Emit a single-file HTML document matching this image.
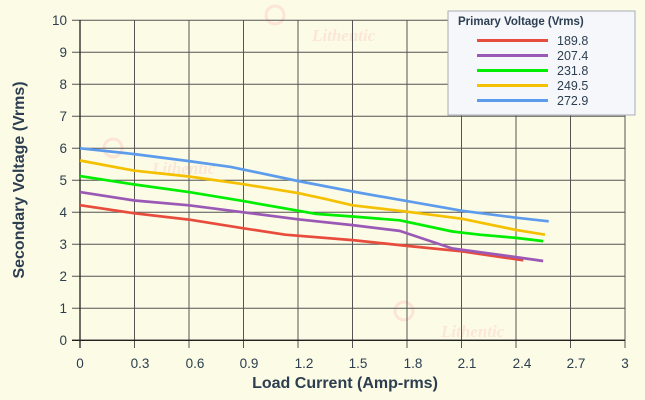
<!DOCTYPE html>
<html><head><meta charset="utf-8"><style>
html,body{margin:0;padding:0;background:#fcfbe5;}
svg{display:block;font-family:"Liberation Sans",Arial,sans-serif;}
</style></head><body>
<svg width="645" height="400" viewBox="0 0 645 400" xmlns="http://www.w3.org/2000/svg">
<rect width="645" height="400" fill="#fcfbe5"/>
<g fill="none" stroke="#fbe0d0" stroke-width="3" opacity="0.8">
<circle cx="275" cy="15" r="9"/><circle cx="113" cy="148" r="9"/><circle cx="404" cy="311" r="9"/>
</g>
<g font-family="Liberation Serif,serif" font-style="italic" font-weight="bold" font-size="17" fill="#fbe6d8">
<text x="312" y="41">Lithentic</text><text x="152" y="174">Lithentic</text><text x="441" y="337">Lithentic</text>
</g>
<g stroke="#555" stroke-width="1">
<line x1="80" y1="20" x2="80" y2="348"/>
<line x1="134.5" y1="20" x2="134.5" y2="348"/>
<line x1="189" y1="20" x2="189" y2="348"/>
<line x1="243.5" y1="20" x2="243.5" y2="348"/>
<line x1="298" y1="20" x2="298" y2="348"/>
<line x1="352.5" y1="20" x2="352.5" y2="348"/>
<line x1="407" y1="20" x2="407" y2="348"/>
<line x1="461.5" y1="20" x2="461.5" y2="348"/>
<line x1="516" y1="20" x2="516" y2="348"/>
<line x1="570.5" y1="20" x2="570.5" y2="348"/>
<line x1="625" y1="20" x2="625" y2="348"/>
<line x1="72" y1="340.3" x2="625" y2="340.3"/>
<line x1="72" y1="308.3" x2="625" y2="308.3"/>
<line x1="72" y1="276.3" x2="625" y2="276.3"/>
<line x1="72" y1="244.3" x2="625" y2="244.3"/>
<line x1="72" y1="212.3" x2="625" y2="212.3"/>
<line x1="72" y1="180.3" x2="625" y2="180.3"/>
<line x1="72" y1="148.3" x2="625" y2="148.3"/>
<line x1="72" y1="116.3" x2="625" y2="116.3"/>
<line x1="72" y1="84.3" x2="625" y2="84.3"/>
<line x1="72" y1="52.3" x2="625" y2="52.3"/>
<line x1="72" y1="20.3" x2="625" y2="20.3"/>
</g>
<line x1="80" y1="20" x2="80" y2="348" stroke="#222" stroke-width="1.3"/>
<line x1="72" y1="340.3" x2="625" y2="340.3" stroke="#222" stroke-width="1.3"/>
<g font-size="13.5" fill="#2c3e50" text-anchor="end">
<text x="67" y="345">0</text><text x="67" y="313">1</text><text x="67" y="281">2</text><text x="67" y="249">3</text><text x="67" y="217">4</text><text x="67" y="185">5</text><text x="67" y="153">6</text><text x="67" y="121">7</text><text x="67" y="89">8</text><text x="67" y="57">9</text><text x="67" y="25">10</text>
</g>
<g font-size="13.5" fill="#2c3e50" text-anchor="middle">
<text x="80" y="368">0</text><text x="140" y="368">0.3</text><text x="195" y="368">0.6</text><text x="249" y="368">0.9</text><text x="304" y="368">1.2</text><text x="358" y="368">1.5</text><text x="413" y="368">1.8</text><text x="467" y="368">2.1</text><text x="522" y="368">2.4</text><text x="576" y="368">2.7</text><text x="625" y="368">3</text>
</g>
<text x="345" y="388" font-size="16" font-weight="bold" fill="#2c3e50" text-anchor="middle">Load Current (Amp-rms)</text>
<text transform="translate(24,180) rotate(-90)" font-size="16" font-weight="bold" fill="#2c3e50" text-anchor="middle">Secondary Voltage (Vrms)</text>
<g fill="none" stroke-width="2.7" stroke-linejoin="round">
<polyline stroke="#e74c3c" points="80,205.2 134.5,213.3 189,219.6 243.5,228.3 285.3,234.7 352.5,240.1 407,245.9 461.5,251.3 523.3,260.3"/>
<polyline stroke="#9b59b6" points="80,192.1 134.5,200.5 189,205.3 243.5,212.3 298,219.3 352.5,225.1 399.7,230.9 452.4,248.5 516,257.1 543.2,261"/>
<polyline stroke="#00ee00" points="80,176.1 134.5,184.5 189,192.1 243.5,201.1 298,210.7 316.2,213.9 352.5,216.5 399.7,220.3 452.4,231.5 479.7,234.7 516,237.9 543.2,241.1"/>
<polyline stroke="#f5c000" points="80,160.5 134.5,170.7 189,176.5 243.5,184.2 298,193.1 325.3,198.9 352.5,205.3 407,211.7 461.5,218.7 516,229.9 545,234.7"/>
<polyline stroke="#5d9cec" points="80,148.3 134.5,154.1 189,161.1 230.8,166.9 298,181 352.5,191.5 407,201.1 461.5,210.7 516,217.7 548.7,221.3"/>
</g>
<rect x="448" y="11" width="187" height="104" fill="#f5f7fb" stroke="#a8adb5" stroke-width="1"/>
<text x="458" y="25" font-size="11.5" font-weight="bold" fill="#2c3e50">Primary Voltage (Vrms)</text>
<g stroke-width="3">
<line x1="477" y1="40.5" x2="548" y2="40.5" stroke="#e74c3c"/>
<line x1="477" y1="55.5" x2="548" y2="55.5" stroke="#9b59b6"/>
<line x1="477" y1="70.5" x2="548" y2="70.5" stroke="#00ee00"/>
<line x1="477" y1="85.5" x2="548" y2="85.5" stroke="#f5c000"/>
<line x1="477" y1="100.5" x2="548" y2="100.5" stroke="#5d9cec"/>
</g>
<g font-size="12.5" fill="#2c3e50">
<text x="557" y="45">189.8</text><text x="557" y="60">207.4</text><text x="557" y="75">231.8</text><text x="557" y="90">249.5</text><text x="557" y="105">272.9</text>
</g>
</svg>
</body></html>
